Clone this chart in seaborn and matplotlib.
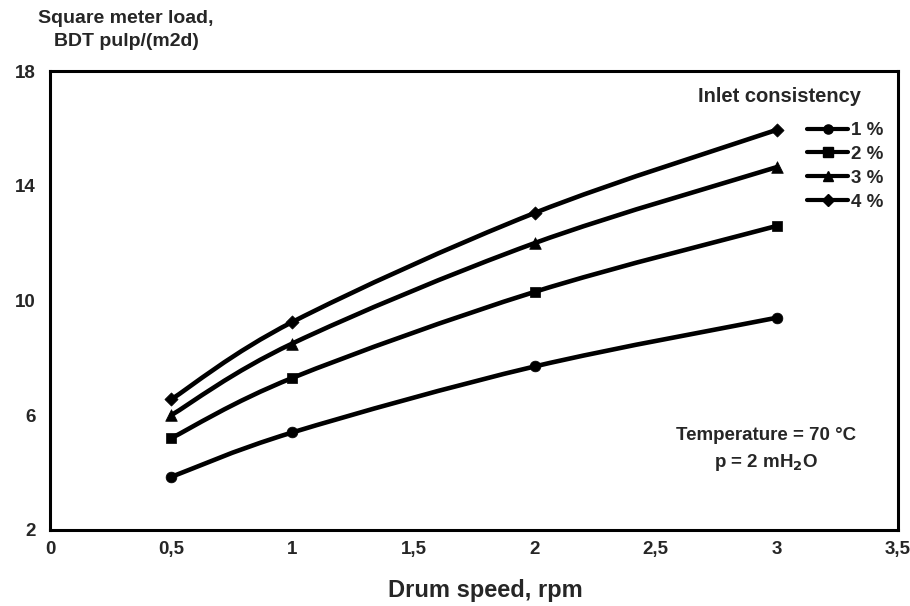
import numpy as np
import pandas as pd
import matplotlib
matplotlib.use("Agg")
import matplotlib.pyplot as plt
from matplotlib.path import Path
from matplotlib.patches import PathPatch
from matplotlib.lines import Line2D
from matplotlib.ticker import FuncFormatter
import seaborn as sns

# Drum speed (rpm) and square meter load per inlet consistency
drum_speed = [0.5, 1.0, 2.0, 3.0]
load_1pct = [3.85, 5.4, 7.7, 9.4]
load_2pct = [5.2, 7.3, 10.3, 12.6]
load_3pct = [6.0, 8.5, 12.0, 14.65]
load_4pct = [6.55, 9.25, 13.05, 15.95]
series_labels = ["1 %", "2 %", "3 %", "4 %"]
series_markers = ["o", "s", "^", "D"]
marker_area = {"1 %": 60, "2 %": 60, "3 %": 70, "4 %": 45}

x_ticks = [0, 0.5, 1, 1.5, 2, 2.5, 3, 3.5]
y_ticks = [2, 6, 10, 14, 18]

df = pd.DataFrame({
    "speed": drum_speed * 4,
    "load": load_1pct + load_2pct + load_3pct + load_4pct,
    "consistency": sum([[lab] * len(drum_speed) for lab in series_labels], []),
})

sns.set_theme(style="white")
plt.rcParams["font.family"] = ["Liberation Sans", "DejaVu Sans"]
plt.rcParams["font.weight"] = "bold"

fig = plt.figure(figsize=(9.1, 6.06), dpi=100)
ax = fig.add_axes([50 / 910, 1 - 530 / 606, 848 / 910, (530 - 71) / 606])

# Markers through seaborn, one call per series for individual sizes
for lab, mk in zip(series_labels, series_markers):
    sub = df[df["consistency"] == lab]
    sns.scatterplot(data=sub, x="speed", y="load", marker=mk, color="black",
                    s=marker_area[lab], edgecolor="black", linewidth=0.5,
                    legend=False, ax=ax, zorder=4)


def smooth_path(xs, ys, tension=1 / 6):
    """Catmull-Rom style Bezier path through the given points."""
    pts = np.column_stack([xs, ys])
    n = len(pts)
    verts = [pts[0]]
    codes = [Path.MOVETO]
    for i in range(n - 1):
        p0 = pts[i - 1] if i > 0 else pts[i]
        p1 = pts[i]
        p2 = pts[i + 1]
        p3 = pts[i + 2] if i + 2 < n else pts[i + 1]
        c1 = p1 + (p2 - p0) * tension
        c2 = p2 - (p3 - p1) * tension
        verts += [c1, c2, p2]
        codes += [Path.CURVE4] * 3
    return Path(verts, codes)


handles = []
for lab, mk in zip(series_labels, series_markers):
    sub = df[df["consistency"] == lab]
    patch = PathPatch(smooth_path(sub["speed"].values, sub["load"].values),
                      facecolor="none", edgecolor="black", lw=3.3,
                      capstyle="round", joinstyle="round", zorder=3)
    ax.add_patch(patch)
    handles.append(Line2D([], [], color="black", lw=3, marker=mk,
                          markersize=np.sqrt(marker_area[lab]) * 0.85,
                          markeredgecolor="black", label=lab))

ax.set_xlim(0, 3.5)
ax.set_ylim(2, 18)
ax.set_xticks(x_ticks)
ax.set_yticks(y_ticks)
ax.xaxis.set_major_formatter(FuncFormatter(lambda v, p: f"{v:g}".replace(".", ",")))
ax.tick_params(axis="y", direction="out", length=4, width=1.2, color="black",
               labelsize=13.5, pad=6)
ax.tick_params(axis="x", direction="out", length=2, width=1, color="black",
               labelsize=13.5, pad=6)
for t in ax.get_xticklabels() + ax.get_yticklabels():
    t.set_fontweight("bold")

for s in ax.spines.values():
    s.set_visible(True)
    s.set_color("black")
    s.set_linewidth(2.2)

ax.set_xlabel("")
ax.set_ylabel("")
fig.text(485 / 910, 1 - 590 / 606, "Drum speed, rpm", ha="center", va="center",
         fontsize=17, fontweight="bold")

fig.text(126 / 910, 1 - 30 / 606, "Square meter load,\nBDT pulp/(m2d)",
         ha="center", va="center", fontsize=14, fontweight="bold", linespacing=1.45)

fig.text(779 / 910, 1 - 97 / 606, "Inlet consistency", ha="center", va="center",
         fontsize=14.5, fontweight="bold")

leg = ax.legend(handles=handles, loc="upper left",
                bbox_to_anchor=(807 / 910, 1 - 122 / 606),
                bbox_transform=fig.transFigure, frameon=False, fontsize=13.5,
                handlelength=2.2, handletextpad=0.15, labelspacing=0.36,
                borderpad=0, borderaxespad=0)
for t in leg.get_texts():
    t.set_fontweight("bold")

ax.text((766 - 50) / 848, (530 - 450) / 459,
        "Temperature = 70 \u00b0C\np = 2 mH$_\\mathbf{2}$O",
        transform=ax.transAxes, ha="center", va="center", fontsize=13.5,
        fontweight="bold", linespacing=1.5)

fig.savefig("out.png", dpi=100)
